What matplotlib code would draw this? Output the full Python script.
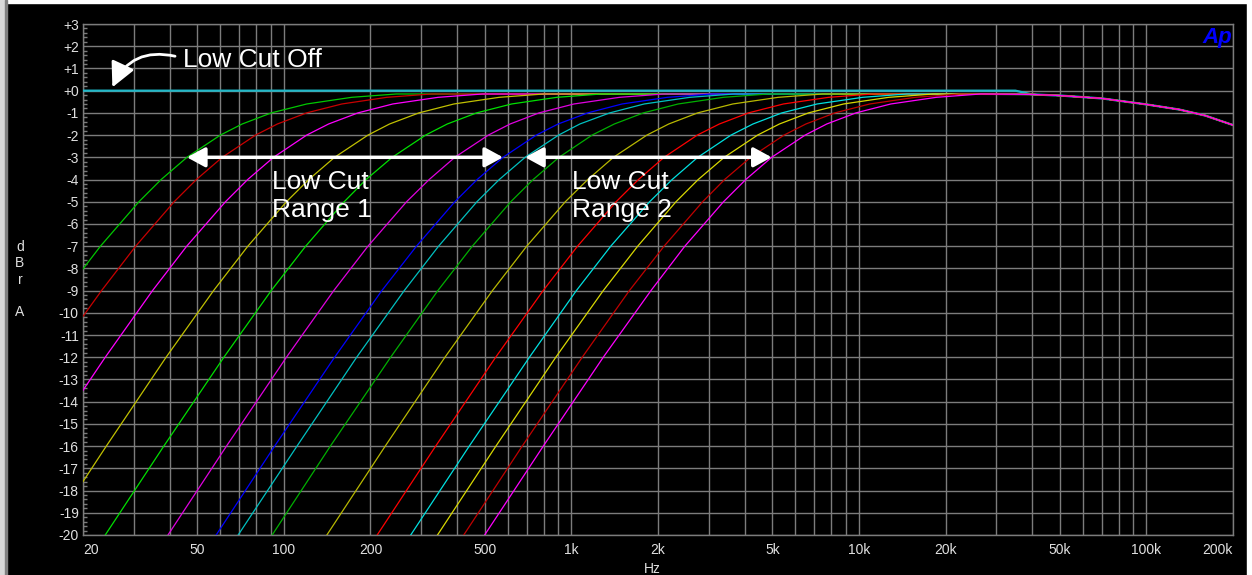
import matplotlib
matplotlib.use("Agg")
import matplotlib.pyplot as plt
from matplotlib.patches import Rectangle
from matplotlib.ticker import FixedLocator, FixedFormatter, NullFormatter

# -------------------------
# data (read off the AP sweep)
# -------------------------
# dB levels at which each low-cut curve was read
levels = [-20, -16, -12, -9, -7, -5, -4, -3, -2, -1.5, -1, -0.6, -0.3, -0.15]

# frequency (Hz) where each curve crosses the levels above
curve_freqs = [
    [4.62, 7.38, 11.9, 17.5, 23.0, 31.3, 37.4, 46, 60.1, 71.6, 90.4, 120, 172, 246],
    [6.13, 9.79, 15.8, 23.2, 30.5, 41.5, 49.6, 61, 79.7, 94.9, 120, 159, 228, 326],
    [9.25, 14.8, 23.9, 34.9, 45.9, 62.6, 74.8, 92, 120, 143, 181, 239, 344, 491],
    [15.1, 24.1, 38.9, 56.9, 74.9, 102, 122, 150, 196, 233, 295, 390, 561, 801],
    [23.9, 38.2, 61.8, 90.3, 119, 162, 193, 238, 311, 370, 468, 619, 890, 1270],
    [39.5, 63.1, 102, 149, 196, 267, 320, 393, 514, 612, 772, 1020, 1470, 2100],
    [58.1, 92.8, 150, 219, 289, 393, 470, 578, 755, 899, 1140, 1500, 2160, 3090],
    [69.3, 111, 179, 262, 345, 469, 561, 690, 902, 1070, 1360, 1790, 2580, 3680],
    [91.0, 145, 235, 343, 452, 615, 736, 905, 1180, 1410, 1780, 2350, 3380, 4830],
    [141, 225, 363, 531, 699, 952, 1140, 1400, 1830, 2180, 2750, 3640, 5240, 7480],
    [211, 337, 545, 797, 1050, 1430, 1710, 2100, 2740, 3270, 4130, 5460, 7850, 11200],
    [276, 441, 714, 1040, 1370, 1870, 2240, 2750, 3590, 4280, 5400, 7150, 10300, 14700],
    [342, 546, 882, 1290, 1700, 2310, 2760, 3400, 4440, 5290, 6680, 8840, 12700, 18200],
    [422, 674, 1090, 1590, 2100, 2860, 3410, 4200, 5490, 6540, 8250, 10900, 15700, 22400],
    [499, 798, 1290, 1890, 2480, 3380, 4040, 4970, 6500, 7730, 9770, 12900, 18600, 26500],
]

curve_colors = [
    "#00c800", "#c80000", "#ff00ff", "#c0c000", "#00e000",
    "#e000e0", "#0000ff", "#00c0c0", "#00b000", "#b8b800",
    "#ff0000", "#00e0e0", "#d8d800", "#c00000", "#ff00ff",
]

# common high frequency roll-off shared by every trace
tail_freqs = [40000, 50000, 70000, 100000, 130000, 160000, 200000]
tail_db = [-0.17, -0.22, -0.35, -0.62, -0.85, -1.12, -1.55]

# "Low Cut Off" trace
off_freqs = [20, 35000]
off_db = [0, 0]

x_ticks = [20, 50, 100, 200, 500, 1000, 2000, 5000, 10000, 20000, 50000, 100000, 200000]
x_labels = ["20", "50", "100", "200", "500", "1k", "2k", "5k", "10k", "20k", "50k", "100k", "200k"]
x_grid = [20, 30, 40, 50, 60, 70, 80, 90,
          100, 200, 300, 400, 500, 600, 700, 800, 900,
          1000, 2000, 3000, 4000, 5000, 6000, 7000, 8000, 9000,
          10000, 20000, 30000, 40000, 50000, 60000, 70000, 80000, 90000,
          100000, 200000]
y_ticks = list(range(3, -21, -1))
y_labels = ["+3", "+2", "+1", "+0"] + [str(v) for v in range(-1, -21, -1)]

range_arrows = [(46, 578), (690, 4970)]

# -------------------------
# figure
# -------------------------
W, H = 1252, 575
fig = plt.figure(figsize=(W / 100, H / 100), dpi=100, facecolor="black")
fig.patches.append(Rectangle((0, 1 - 3 / H), 1, 3 / H, transform=fig.transFigure,
                             color="white", zorder=-1))
fig.patches.append(Rectangle((0, 0), 5 / W, 1, transform=fig.transFigure,
                             color="#d8d8d8", zorder=-1))
fig.patches.append(Rectangle((5 / W, 0), 2 / W, 1, transform=fig.transFigure,
                             color="#808080", zorder=-1))
fig.patches.append(Rectangle((1 - 5 / W, 0), 5 / W, 1, transform=fig.transFigure,
                             color="white", zorder=-1))

ax = fig.add_axes([83 / W, 1 - 535 / H, 1150 / W, 511 / H])
ax.set_facecolor("black")

grid_col = "#7c7c7c"
tick_font = ["Liberation Sans Narrow", "Liberation Sans", "DejaVu Sans"]

ax.plot(off_freqs + tail_freqs, off_db + tail_db, color="#20b8c8", lw=1.6, zorder=3)
for freqs, col in zip(curve_freqs, curve_colors):
    ax.plot(freqs + tail_freqs, levels + tail_db, color=col, lw=0.9, zorder=3)

ax.set_xscale("log")
ax.set_xlim(20, 200000)
ax.set_ylim(-20, 3)

ax.xaxis.set_major_locator(FixedLocator(x_ticks))
ax.xaxis.set_major_formatter(FixedFormatter(x_labels))
ax.xaxis.set_minor_locator(FixedLocator(x_grid))
ax.xaxis.set_minor_formatter(NullFormatter())
ax.yaxis.set_major_locator(FixedLocator(y_ticks))
ax.yaxis.set_major_formatter(FixedFormatter(y_labels))
ax.yaxis.set_minor_locator(FixedLocator([v / 5 for v in range(-100, 16)]))

ax.grid(True, which="both", axis="x", color=grid_col, lw=1.0)
ax.grid(True, which="major", axis="y", color=grid_col, lw=1.0)
ax.tick_params(axis="x", which="both", length=0, colors="#e0e0e0", labelsize=10, pad=6)
ax.tick_params(axis="y", which="major", length=0, colors="#e0e0e0", labelsize=10, pad=3)
ax.tick_params(axis="y", which="minor", length=3, direction="in", color=grid_col, width=1)
for lab in ax.get_xticklabels() + ax.get_yticklabels():
    lab.set_family(tick_font)
xl = ax.get_xticklabels()
xl[0].set_ha("left")
xl[-1].set_ha("right")
for sp in ax.spines.values():
    sp.set_color(grid_col)
    sp.set_linewidth(1.0)

# -------------------------
# annotations
# -------------------------
txt_font = ["Liberation Sans", "DejaVu Sans"]
ax.text(44.6, 1.4, "Low Cut Off", color="white", fontsize=19, family=txt_font,
        ha="left", va="center")
ax.annotate("", xy=(25.3, 0.15), xytext=(41.8, 1.55),
            arrowprops=dict(arrowstyle="-|>,head_length=0.6,head_width=0.3",
                            mutation_scale=25, color="white", lw=2,
                            shrinkA=0, shrinkB=0,
                            connectionstyle="arc3,rad=0.4"))

ax.text(91, -4.75, "Low Cut\nRange 1", color="white", fontsize=19, family=txt_font,
        ha="left", va="center", linespacing=1.22)
ax.text(1004, -4.75, "Low Cut\nRange 2", color="white", fontsize=19, family=txt_font,
        ha="left", va="center", linespacing=1.22)
for f_lo, f_hi in range_arrows:
    ax.annotate("", xy=(f_hi, -3), xytext=(f_lo, -3),
                arrowprops=dict(arrowstyle="<|-|>,head_length=0.55,head_width=0.3",
                                mutation_scale=20, color="white", lw=2.5,
                                shrinkA=0, shrinkB=0))

fig.text(1217 / W, 1 - 37 / H, "Ap", color="#0000ff", fontsize=16, fontweight="bold",
         fontstyle="italic", family=txt_font, ha="center", va="center")
fig.text(20 / W, 1 - 279.5 / H, "d\nB\nr\n\nA", color="#e0e0e0", fontsize=10,
         family=tick_font, ha="center", va="center", linespacing=1.2)
fig.text(652 / W, 1 - 569 / H, "Hz", color="#e0e0e0", fontsize=10,
         family=tick_font, ha="center", va="center")

fig.savefig("out.png", dpi=100, facecolor=fig.get_facecolor())
